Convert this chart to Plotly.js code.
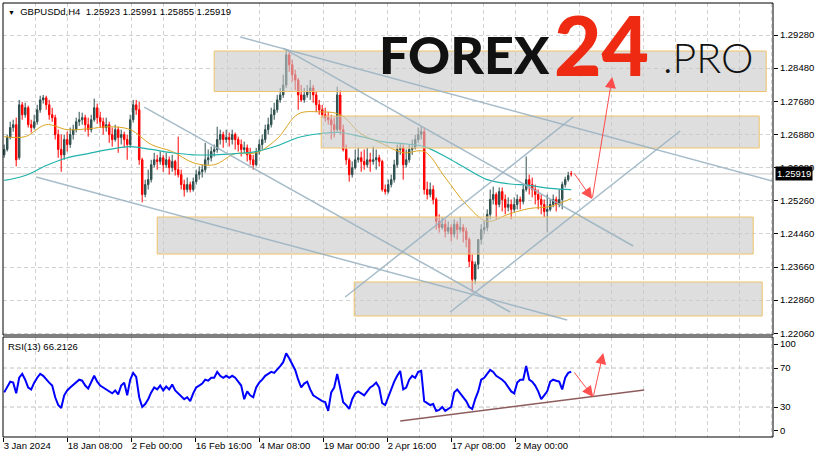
<!DOCTYPE html>
<html>
<head>
<meta charset="utf-8">
<script src="https://cdn.plot.ly/plotly-3.0.1.min.js"></script>
<style>html,body{margin:0;padding:0;background:#fff;}#chart{width:819px;height:458px;}</style>
</head>
<body>
<div id="chart"></div>
<script>
const open = [
1.2638,1.2651,1.2680,1.2704,1.2711,1.2631,1.2759,1.2735,1.2752,1.2711,
1.2704,1.2718,1.2747,1.2771,1.2776,1.2759,1.2735,1.2728,1.2687,1.2651,
1.2638,1.2675,1.2663,1.2687,1.2699,1.2718,1.2723,1.2728,1.2711,1.2699,
1.2723,1.2752,1.2728,1.2718,1.2704,1.2711,1.2687,1.2675,1.2699,1.2680,
1.2687,1.2675,1.2663,1.2723,1.2759,1.2747,1.2626,1.2542,1.2566,1.2578,
1.2614,1.2626,1.2622,1.2631,1.2614,1.2626,1.2607,1.2622,1.2602,1.2590,
1.2566,1.2554,1.2566,1.2554,1.2573,1.2590,1.2597,1.2602,1.2626,1.2631,
1.2646,1.2651,1.2675,1.2687,1.2675,1.2680,1.2675,1.2687,1.2675,1.2663,
1.2651,1.2655,1.2638,1.2626,1.2614,1.2646,1.2663,1.2675,1.2699,1.2711,
1.2735,1.2747,1.2771,1.2783,1.2807,1.2880,1.2856,1.2832,1.2819,1.2783,
1.2771,1.2783,1.2790,1.2800,1.2783,1.2759,1.2747,1.2735,1.2728,1.2723,
1.2711,1.2699,1.2783,1.2699,1.2651,1.2626,1.2590,1.2607,1.2626,1.2631,
1.2622,1.2614,1.2626,1.2622,1.2626,1.2631,1.2622,1.2554,1.2549,1.2566,
1.2578,1.2614,1.2651,1.2655,1.2614,1.2626,1.2651,1.2655,1.2675,1.2687,
1.2694,1.2554,1.2542,1.2554,1.2530,1.2477,1.2462,1.2470,1.2453,1.2462,
1.2446,1.2470,1.2457,1.2462,1.2453,1.2433,1.2380,1.2337,1.2373,1.2433,
1.2457,1.2462,1.2494,1.2530,1.2542,1.2518,1.2549,1.2530,1.2511,1.2518,
1.2506,1.2518,1.2530,1.2525,1.2554,1.2578,1.2566,1.2554,1.2542,1.2530,
1.2518,1.2501,1.2506,1.2518,1.2530,1.2518,1.2530,1.2566,1.2578,1.25923];
const high = [
1.2663,1.2687,1.2718,1.2723,1.2728,1.2771,1.2766,1.2764,1.2757,1.2723,
1.2735,1.2759,1.2781,1.2783,1.2781,1.2771,1.2752,1.2735,1.2699,1.2687,
1.2687,1.2694,1.2704,1.2711,1.2728,1.2742,1.2740,1.2735,1.2728,1.2735,
1.2774,1.2762,1.2742,1.2728,1.2728,1.2718,1.2704,1.2711,1.2706,1.2699,
1.2694,1.2687,1.2735,1.2771,1.2771,1.2766,1.2631,1.2578,1.2602,1.2626,
1.2643,1.2638,1.2646,1.2638,1.2643,1.2634,1.2638,1.2626,1.2682,1.2602,
1.2578,1.2583,1.2573,1.2583,1.2602,1.2610,1.2614,1.2667,1.2651,1.2658,
1.2663,1.2706,1.2699,1.2694,1.2699,1.2692,1.2699,1.2692,1.2682,1.2675,
1.2670,1.2663,1.2655,1.2638,1.2655,1.2675,1.2687,1.2711,1.2728,1.2752,
1.2764,1.2783,1.2800,1.2832,1.2892,1.2887,1.2868,1.2844,1.2824,1.2807,
1.2800,1.2807,1.2819,1.2807,1.2790,1.2771,1.2759,1.2752,1.2742,1.2735,
1.2728,1.2803,1.2795,1.2711,1.2663,1.2631,1.2622,1.2651,1.2655,1.2646,
1.2651,1.2655,1.2643,1.2658,1.2651,1.2638,1.2626,1.2566,1.2578,1.2590,
1.2626,1.2663,1.2667,1.2663,1.2651,1.2663,1.2675,1.2687,1.2704,1.2706,
1.2704,1.2573,1.2571,1.2564,1.2535,1.2494,1.2487,1.2482,1.2477,1.2470,
1.2482,1.2477,1.2487,1.2470,1.2462,1.2438,1.2397,1.2380,1.2433,1.2470,
1.2477,1.2506,1.2554,1.2561,1.2547,1.2559,1.2559,1.2542,1.2535,1.2530,
1.2535,1.2542,1.2537,1.2566,1.2634,1.2590,1.2583,1.2566,1.2554,1.2542,
1.2530,1.2542,1.2530,1.2542,1.2537,1.2554,1.2573,1.2585,1.2597,1.25991];
const low = [
1.2631,1.2646,1.2675,1.2694,1.2610,1.2626,1.2723,1.2728,1.2704,1.2692,
1.2699,1.2711,1.2740,1.2762,1.2747,1.2723,1.2718,1.2675,1.2631,1.2597,
1.2626,1.2646,1.2655,1.2675,1.2692,1.2708,1.2711,1.2694,1.2682,1.2692,
1.2718,1.2713,1.2704,1.2687,1.2694,1.2667,1.2658,1.2670,1.2643,1.2663,
1.2655,1.2626,1.2655,1.2716,1.2735,1.2614,1.2523,1.2535,1.2554,1.2571,
1.2607,1.2602,1.2614,1.2597,1.2607,1.2590,1.2597,1.2588,1.2583,1.2554,
1.2537,1.2547,1.2547,1.2549,1.2566,1.2578,1.2583,1.2595,1.2614,1.2622,
1.2634,1.2643,1.2663,1.2655,1.2667,1.2658,1.2663,1.2651,1.2646,1.2634,
1.2643,1.2622,1.2614,1.2602,1.2610,1.2638,1.2651,1.2667,1.2687,1.2704,
1.2723,1.2740,1.2764,1.2776,1.2800,1.2839,1.2815,1.2795,1.2747,1.2766,
1.2764,1.2776,1.2771,1.2764,1.2742,1.2735,1.2728,1.2718,1.2711,1.2675,
1.2680,1.2694,1.2687,1.2646,1.2614,1.2573,1.2583,1.2602,1.2619,1.2597,
1.2602,1.2607,1.2597,1.2614,1.2602,1.2610,1.2549,1.2542,1.2544,1.2559,
1.2571,1.2607,1.2638,1.2578,1.2607,1.2619,1.2638,1.2651,1.2667,1.2675,
1.2542,1.2530,1.2535,1.2518,1.2457,1.2450,1.2457,1.2438,1.2446,1.2429,
1.2438,1.2433,1.2450,1.2426,1.2414,1.2366,1.2305,1.2325,1.2361,1.2421,
1.2446,1.2453,1.2482,1.2518,1.2482,1.2511,1.2501,1.2494,1.2501,1.2482,
1.2499,1.2506,1.2506,1.2518,1.2549,1.2542,1.2535,1.2518,1.2506,1.2494,
1.2487,1.2450,1.2501,1.2511,1.2501,1.2511,1.2506,1.2559,1.2573,1.25855];
const close = [
1.2651,1.2680,1.2704,1.2711,1.2626,1.2759,1.2735,1.2752,1.2711,1.2704,
1.2718,1.2747,1.2771,1.2776,1.2759,1.2735,1.2728,1.2687,1.2651,1.2638,
1.2675,1.2663,1.2687,1.2699,1.2718,1.2723,1.2728,1.2711,1.2699,1.2723,
1.2752,1.2728,1.2718,1.2704,1.2711,1.2687,1.2675,1.2699,1.2680,1.2687,
1.2675,1.2663,1.2723,1.2759,1.2747,1.2626,1.2542,1.2566,1.2578,1.2614,
1.2626,1.2622,1.2631,1.2614,1.2626,1.2607,1.2622,1.2602,1.2590,1.2566,
1.2554,1.2566,1.2554,1.2573,1.2590,1.2597,1.2602,1.2626,1.2631,1.2646,
1.2651,1.2675,1.2687,1.2675,1.2680,1.2675,1.2687,1.2675,1.2663,1.2651,
1.2655,1.2638,1.2626,1.2614,1.2646,1.2663,1.2675,1.2699,1.2711,1.2735,
1.2747,1.2771,1.2783,1.2807,1.2880,1.2856,1.2832,1.2819,1.2783,1.2771,
1.2783,1.2790,1.2800,1.2783,1.2759,1.2747,1.2735,1.2728,1.2723,1.2711,
1.2699,1.2783,1.2699,1.2651,1.2626,1.2590,1.2607,1.2626,1.2631,1.2622,
1.2614,1.2626,1.2622,1.2626,1.2631,1.2622,1.2554,1.2549,1.2566,1.2578,
1.2614,1.2651,1.2655,1.2614,1.2626,1.2651,1.2655,1.2675,1.2687,1.2694,
1.2554,1.2542,1.2554,1.2530,1.2477,1.2462,1.2470,1.2453,1.2462,1.2446,
1.2470,1.2457,1.2462,1.2453,1.2433,1.2380,1.2337,1.2373,1.2433,1.2457,
1.2462,1.2494,1.2530,1.2542,1.2518,1.2549,1.2530,1.2511,1.2518,1.2506,
1.2518,1.2530,1.2525,1.2554,1.2578,1.2566,1.2554,1.2542,1.2530,1.2518,
1.2501,1.2506,1.2518,1.2530,1.2518,1.2530,1.2566,1.2578,1.2588,1.25919];
const rsi = [
45,50,56,55,44,60,64,58,50,48,
55,60,64,62,58,55,52,40,32,29,
42,47,50,53,56,58,57,52,49,56,
62,56,52,50,48,46,44,47,43,52,
55,42,58,65,61,40,30,33,38,45,
50,48,52,47,51,48,53,47,44,42,
38,40,36,44,50,52,54,58,57,60,
60,66,62,60,62,60,62,60,56,52,
38,46,42,40,50,55,58,62,64,66,
65,68,72,76,85,80,74,68,58,50,
54,56,48,42,40,38,36,35,26,45,
50,64,50,35,32,28,38,44,46,44,
42,46,50,52,55,50,34,32,40,50,
56,62,67,48,50,58,62,60,66,67,
36,34,32,33,26,27,30,26,28,30,
45,48,44,40,36,30,28,38,46,58,
60,64,68,66,62,60,58,55,50,46,
44,55,58,58,72,58,56,52,46,38,
42,46,56,58,57,56,48,60,65,66.2126];
// moving averages read every 7th sampled bar
const maFast = [1.2682,1.2682,1.2711,1.2699,1.2701,1.2706,1.2699,1.2663,1.2646,1.2619,1.2614,1.2641,1.2643,1.2677,
  1.2737,1.2742,1.2735,1.2689,1.2665,1.2643,1.2646,1.2583,1.2518,1.2477,1.2494,1.2508,1.2513,1.2532];
const maSlow = [1.2576,1.2588,1.2612,1.2631,1.2641,1.2651,1.2658,1.2651,1.2643,1.2638,1.2638,1.2641,1.2646,1.2660,
  1.2680,1.2689,1.2692,1.2682,1.2670,1.2665,1.2658,1.2634,1.2605,1.2578,1.2568,1.2564,1.2557,1.2554];
const timeLabels = ["3 Jan 2024","18 Jan 08:00","2 Feb 00:00","16 Feb 16:00","4 Mar 08:00","19 Mar 00:00","2 Apr 16:00","17 Apr 08:00","2 May 00:00"];
const priceLabels = ["1.29280","1.28480","1.27680","1.26880","1.26080","1.25260","1.24460","1.23660","1.22860","1.22060"];
const rsiLabels = ["100","70","30","0"];
const lastPrice = 1.25919;
const headerText = "GBPUSDd,H4  1.25923 1.25991 1.25855 1.25919";
const rsiText = "RSI(13) 66.2126";

// ---- geometry ----
const W = 819, H = 458, ML = 3, MR = 46, MT = 3, MB = 21;
const PW = W - ML - MR, PH = H - MT - MB;
const pxX = x => (x - ML) / PW;
const pxY = y => (H - MB - y) / PH;
const STEP = 3;               // horizontal units per sampled bar
const barX = close.map((_, i) => i * STEP);
const maX = maFast.map((_, k) => k * 7 * STEP);
const priceTicks = priceLabels.map((_, k) => 1.29280 - k * (1.29280 - 1.22060) / 9);
const timeTicks = timeLabels.map((_, k) => -1 + 64 * k);
const rsiTicks = [94.6, 70, 30, 6.2];

const FONT = "Liberation Sans, Arial, sans-serif";
const HEAVY = "'Lato Black', 'Roboto Black', 'Noto Sans Black', Inter, Lato, Roboto, sans-serif";
const LIGHT = "'Lato Light', 'Roboto Light', 'Open Sans Light', Lato, Roboto, sans-serif";
const gridCol = "#d2d2d2";

const traces = [
  {type: 'candlestick', x: barX, open: open, high: high, low: low, close: close,
   xaxis: 'x', yaxis: 'y', whiskerwidth: 0, hoverinfo: 'skip', showlegend: false,
   increasing: {line: {color: '#2F4F4F', width: 1}, fillcolor: '#2F4F4F'},
   decreasing: {line: {color: '#FF0000', width: 1}, fillcolor: '#FF0000'}},
  {type: 'scatter', mode: 'lines', x: maX, y: maFast, xaxis: 'x', yaxis: 'y',
   line: {color: '#DAA520', width: 1, shape: 'spline'}, hoverinfo: 'skip', showlegend: false},
  {type: 'scatter', mode: 'lines', x: maX, y: maSlow, xaxis: 'x', yaxis: 'y',
   line: {color: '#20B2AA', width: 1.2, shape: 'spline'}, hoverinfo: 'skip', showlegend: false},
  {type: 'scatter', mode: 'lines', x: barX, y: rsi, xaxis: 'x', yaxis: 'y2',
   line: {color: '#0000FF', width: 2}, hoverinfo: 'skip', showlegend: false}
];

const zoneStyle = {fillcolor: 'rgba(200,200,200,0.6)', line: {color: '#EFC26A', width: 1}, layer: 'above'};
const trendStyle = {color: 'rgba(150,176,192,0.85)', width: 1.5};
const shapes = [
  {type: 'line', xref: 'paper', x0: 0, x1: 1, yref: 'y', y0: lastPrice, y1: lastPrice, line: {color: '#C8C8C8', width: 1}, layer: 'below'},
  {type: 'line', xref: 'paper', x0: 0, x1: 1, yref: 'y2', y0: 70, y1: 70, line: {color: '#c0c0c0', width: 1, dash: '4px,3px'}, layer: 'below'},
  {type: 'line', xref: 'paper', x0: 0, x1: 1, yref: 'y2', y0: 30, y1: 30, line: {color: '#c0c0c0', width: 1, dash: '4px,3px'}, layer: 'below'},
  Object.assign({type: 'rect', xref: 'x', yref: 'y', x0: 210, x1: 762, y0: 1.27912, y1: 1.28893}, zoneStyle),
  Object.assign({type: 'rect', xref: 'x', yref: 'y', x0: 317, x1: 755, y0: 1.26545, y1: 1.27320}, zoneStyle),
  Object.assign({type: 'rect', xref: 'x', yref: 'y', x0: 153, x1: 749, y0: 1.23979, y1: 1.24875}, zoneStyle),
  Object.assign({type: 'rect', xref: 'x', yref: 'y', x0: 350, x1: 758, y0: 1.22479, y1: 1.23302}, zoneStyle),
  {type: 'line', xref: 'x', yref: 'y', x0: 236, y0: 1.29232, x1: 768, y1: 1.25746, line: trendStyle, layer: 'above'},
  {type: 'line', xref: 'x', yref: 'y', x0: 279, y0: 1.28965, x1: 629, y1: 1.24173, line: trendStyle, layer: 'above'},
  {type: 'line', xref: 'x', yref: 'y', x0: 140, y0: 1.27537, x1: 506, y1: 1.22576, line: trendStyle, layer: 'above'},
  {type: 'line', xref: 'x', yref: 'y', x0: 32, y0: 1.25843, x1: 563, y1: 1.22382, line: trendStyle, layer: 'above'},
  {type: 'line', xref: 'x', yref: 'y', x0: 341, y0: 1.22939, x1: 569, y1: 1.27295, line: trendStyle, layer: 'above'},
  {type: 'line', xref: 'x', yref: 'y', x0: 446, y0: 1.22576, x1: 676, y1: 1.26956, line: trendStyle, layer: 'above'},
  {type: 'line', xref: 'x', yref: 'y2', x0: 396, y0: 15.6, x1: 640, y1: 47.4, line: {color: '#8E5C5C', width: 1.5}, layer: 'above'},
  {type: 'rect', xref: 'paper', x0: 0, x1: 1, yref: 'y domain', y0: 0, y1: 1, line: {color: '#000', width: 1}, layer: 'above'},
  {type: 'rect', xref: 'paper', x0: 0, x1: 1, yref: 'y2 domain', y0: 0, y1: 1, line: {color: '#000', width: 1}, layer: 'above'}
];

const arrowBase = {text: '', showarrow: true, arrowhead: 2, arrowsize: 2.2, arrowwidth: 1, arrowcolor: 'rgba(255,60,60,0.9)', axref: 'x'};
const annotations = [
  Object.assign({xref: 'x', yref: 'y', ayref: 'y', x: 588, y: 1.25311, ax: 569, ay: 1.25964}, arrowBase),
  Object.assign({xref: 'x', yref: 'y', ayref: 'y', x: 608, y: 1.28263, ax: 588, ay: 1.25311}, arrowBase),
  Object.assign({xref: 'x', yref: 'y2', ayref: 'y2', x: 589, y: 40.3, ax: 569, ay: 66.9}, arrowBase),
  Object.assign({xref: 'x', yref: 'y2', ayref: 'y2', x: 599, y: 85.4, ax: 589, ay: 40.3}, arrowBase),
  {xref: 'paper', yref: 'y', x: 1, y: lastPrice, xanchor: 'left', yanchor: 'middle', xshift: 2, showarrow: false,
   text: lastPrice.toFixed(5), font: {family: FONT, size: 9.5, color: '#fff'}, bgcolor: '#000', borderpad: 1},
  {xref: 'paper', yref: 'paper', x: pxX(6), y: pxY(11), xanchor: 'left', yanchor: 'middle', showarrow: false,
   text: '<span style="font-size:7px">▼</span>  ' + headerText, font: {family: FONT, size: 9.5, color: '#000'}},
  {xref: 'paper', yref: 'paper', x: pxX(6), y: pxY(346), xanchor: 'left', yanchor: 'middle', showarrow: false,
   text: rsiText, font: {family: FONT, size: 9.5, color: '#000'}},
  {xref: 'paper', yref: 'paper', x: pxX(377), y: pxY(54), xanchor: 'left', yanchor: 'middle', showarrow: false,
   text: '<b>FOREX</b>', font: {family: HEAVY, size: 52, color: '#111', weight: 900}},
  {xref: 'paper', yref: 'paper', x: pxX(552), y: pxY(44), xanchor: 'left', yanchor: 'middle', showarrow: false,
   text: '<b>24</b>', font: {family: HEAVY, size: 82, color: '#EE2B12', weight: 900}},
  {xref: 'paper', yref: 'paper', x: pxX(661), y: pxY(58), xanchor: 'left', yanchor: 'middle', showarrow: false,
   text: '.PRO', font: {family: LIGHT, size: 41, color: '#111', weight: 300}}
];

const layout = {
  width: W, height: H, margin: {l: ML, r: MR, t: MT, b: MB},
  paper_bgcolor: '#fff', plot_bgcolor: '#fff', showlegend: false,
  font: {family: FONT, size: 9.5, color: '#000'},
  xaxis: {
    range: [-1.2, 768.8], anchor: 'y2', rangeslider: {visible: false}, fixedrange: true,
    tickmode: 'array', tickvals: timeTicks, ticktext: timeLabels, ticklabelposition: 'outside right',
    ticks: 'outside', ticklen: 4, tickcolor: '#000', showgrid: false, zeroline: false, showline: false,
    tickfont: {family: FONT, size: 9.5, color: '#000'},
    minor: {tickmode: 'linear', tick0: 31, dtick: 32, showgrid: true, gridcolor: gridCol, griddash: '4px,3px', gridwidth: 1, ticklen: 0}
  },
  yaxis: {
    domain: [(H - MB - 335) / PH, 1], range: [1.22019, 1.30055], side: 'right', anchor: 'x', fixedrange: true,
    tickmode: 'array', tickvals: priceTicks, ticktext: priceLabels, ticks: 'outside', ticklen: 4, tickcolor: '#000',
    showgrid: true, gridcolor: gridCol, griddash: '4px,3px', zeroline: false, showline: false,
    tickfont: {family: FONT, size: 9.5, color: '#000'}
  },
  yaxis2: {
    domain: [0, (H - MB - 337) / PH], range: [-0.77, 101.8], side: 'right', anchor: 'x', fixedrange: true,
    tickmode: 'array', tickvals: rsiTicks, ticktext: rsiLabels, ticks: 'outside', ticklen: 4, tickcolor: '#000',
    showgrid: false, zeroline: false, showline: false,
    tickfont: {family: FONT, size: 9.5, color: '#000'}
  },
  shapes: shapes,
  annotations: annotations
};

Plotly.newPlot('chart', traces, layout, {displayModeBar: false, staticPlot: true});
</script>
</body>
</html>
